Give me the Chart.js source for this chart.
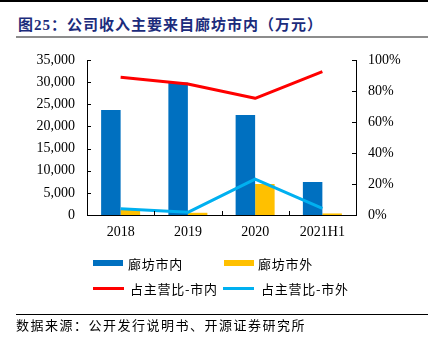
<!DOCTYPE html>
<html>
<head>
<meta charset="utf-8">
<script src="https://cdn.jsdelivr.net/npm/chart.js@4.4.1/dist/chart.umd.min.js"></script>
<style>
  html,body{margin:0;padding:0;background:#fff;}
  body{width:428px;height:350px;position:relative;overflow:hidden;}
  .abs{position:absolute;}
  #title{left:18px;top:15px;line-height:20px;font-size:15px;font-weight:bold;color:#1c2c7c;
    font-family:"Liberation Serif","Noto Sans CJK SC",serif;letter-spacing:1px;white-space:nowrap;}
  #src{left:16px;top:317px;line-height:16px;font-size:13px;color:#000;
    font-family:"Noto Sans CJK SC",sans-serif;letter-spacing:1.5px;white-space:nowrap;}
  .lg{position:absolute;display:flex;align-items:center;height:16px;white-space:nowrap;
    font-family:"Noto Sans CJK SC",sans-serif;font-size:13px;letter-spacing:0.75px;color:#000;}
  .sw{display:inline-block;}
</style>
</head>
<body>
<div class="abs" style="left:0;top:0;width:428px;height:2px;background:#000"></div>
<div id="title" class="abs">图25：公司收入主要来自廊坊市内（万元）</div>
<div class="abs" style="left:16px;top:36px;width:412px;height:2px;background:#8c8c8c"></div>
<canvas id="c" width="428" height="350" class="abs" style="left:0;top:0;width:428px;height:350px"></canvas>
<div id="legend"></div>
<div class="abs" style="left:16px;top:314px;width:412px;height:1px;background:#000"></div>
<div id="src" class="abs">数据来源：公开发行说明书、开源证券研究所</div>
<script>
const categories = ['2018', '2019', '2020', '2021H1'];
const revenueInCity = [23700, 29900, 22600, 7450];
const revenueOutCity = [1300, 500, 7000, 350];
const shareInCity = [88.8, 84.5, 75.3, 92.5];
const shareOutCity = [4.1, 1.7, 23.2, 4.3];
const seriesNames = ['廊坊市内', '廊坊市外', '占主营比-市内', '占主营比-市外'];
const leftTickStep = 5000, leftMax = 35000;
const rightTickStep = 20, rightMax = 100;

const tickFont = {family: 'Liberation Serif', size: 14};

const innerTicks = {
  id: 'innerTicks',
  afterDraw(chart) {
    const {ctx, chartArea: a, scales: {x, y, y1}} = chart;
    ctx.save();
    ctx.strokeStyle = '#000';
    ctx.lineWidth = 1;
    ctx.beginPath();
    y.ticks.forEach(t => {
      const py = Math.round(y.getPixelForValue(t.value)) + 0.5;
      ctx.moveTo(a.left, py); ctx.lineTo(a.left + 4, py);
    });
    y1.ticks.forEach(t => {
      const py = Math.round(y1.getPixelForValue(t.value)) + 0.5;
      ctx.moveTo(a.right - 4, py); ctx.lineTo(a.right, py);
    });
    for (let i = 0; i < categories.length - 1; i++) {
      const px = Math.round((x.getPixelForTick(i) + x.getPixelForTick(i + 1)) / 2) + 0.5;
      ctx.moveTo(px, a.bottom); ctx.lineTo(px, a.bottom - 4);
    }
    ctx.stroke();
    ctx.restore();
  }
};

const chart = new Chart(document.getElementById('c'), {
  type: 'bar',
  data: {
    labels: categories,
    datasets: [
      {type: 'bar', label: seriesNames[0], data: revenueInCity, backgroundColor: '#0070C0',
        yAxisID: 'y', order: 2, categoryPercentage: 0.58, barPercentage: 1},
      {type: 'bar', label: seriesNames[1], data: revenueOutCity, backgroundColor: '#FFC000',
        yAxisID: 'y', order: 2, categoryPercentage: 0.58, barPercentage: 1},
      {type: 'line', label: seriesNames[2], data: shareInCity, borderColor: '#FF0000', backgroundColor: '#FF0000',
        borderWidth: 3, pointRadius: 0, tension: 0, yAxisID: 'y1', order: 1, borderJoinStyle: 'round'},
      {type: 'line', label: seriesNames[3], data: shareOutCity, borderColor: '#00B0F0', backgroundColor: '#00B0F0',
        borderWidth: 3, pointRadius: 0, tension: 0, yAxisID: 'y1', order: 1, borderJoinStyle: 'round'}
    ]
  },
  options: {
    responsive: false,
    animation: false,
    devicePixelRatio: 1,
    layout: {padding: {top: 60, left: 0, right: 0, bottom: 0}},
    plugins: {legend: {display: false}, tooltip: {enabled: false}, title: {display: false}},
    scales: {
      x: {
        offset: true,
        grid: {display: false, drawTicks: false},
        border: {display: true, color: '#000', width: 1},
        ticks: {padding: 9, color: '#000', font: tickFont, maxRotation: 0},
        afterFit: s => { s.height = 135; }
      },
      y: {
        position: 'left', min: 0, max: leftMax,
        grid: {display: false, drawTicks: false},
        border: {display: true, color: '#000', width: 1},
        ticks: {stepSize: leftTickStep, padding: 12, color: '#000', font: tickFont,
          callback: v => v.toLocaleString('en-US')},
        afterFit: s => { s.width = 87; }
      },
      y1: {
        position: 'right', min: 0, max: rightMax,
        grid: {display: false, drawTicks: false},
        border: {display: true, color: '#000', width: 1},
        ticks: {stepSize: rightTickStep, padding: 12, color: '#000', font: tickFont,
          callback: v => v + '%'},
        afterFit: s => { s.width = 72; }
      }
    }
  },
  plugins: [innerTicks]
});

// HTML legend built from the chart's datasets
const legendPos = [
  {left: 93, top: 255, gap: 5},
  {left: 224, top: 255, gap: 4},
  {left: 93, top: 280, gap: 6},
  {left: 223, top: 280, gap: 7}
];
const legend = document.getElementById('legend');
chart.data.datasets.forEach((ds, i) => {
  const item = document.createElement('div');
  item.className = 'lg';
  item.style.left = legendPos[i].left + 'px';
  item.style.top = legendPos[i].top + 'px';
  const sw = document.createElement('span');
  sw.className = 'sw';
  sw.style.width = (ds.type === 'bar' ? 30 : 31) + 'px';
  sw.style.height = (ds.type === 'bar' ? 6 : 3) + 'px';
  sw.style.background = ds.type === 'bar' ? ds.backgroundColor : ds.borderColor;
  sw.style.marginRight = legendPos[i].gap + 'px';
  const tx = document.createElement('span');
  tx.textContent = ds.label;
  item.appendChild(sw);
  item.appendChild(tx);
  legend.appendChild(item);
});
</script>
</body>
</html>
